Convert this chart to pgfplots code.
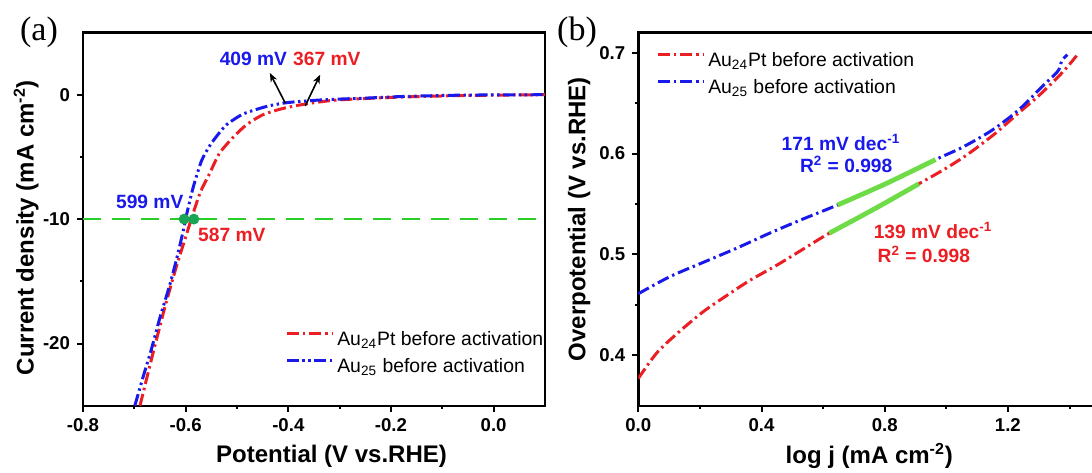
\documentclass[border=0pt]{standalone}
\usepackage{fontspec}
\setmainfont{Liberation Sans}
\newfontfamily\serifa{Liberation Serif}
\usepackage{pgfplots}
\pgfplotsset{compat=1.18}
\usetikzlibrary{arrows.meta}
\definecolor{myred}{RGB}{235,30,35}
\definecolor{myblue}{RGB}{25,25,235}
\definecolor{dashgreen}{RGB}{40,205,40}
\definecolor{dotgreen}{RGB}{25,165,85}
\definecolor{fitgreen}{RGB}{110,220,70}
\pgfplotsset{
 common/.style={
  scale only axis, width=231pt, height=186.6pt,
  axis line style={line width=1.2pt},
  tick align=outside, tick pos=left,
  major tick length=3pt, minor tick length=1.6pt,
  every tick/.style={black, line width=1pt},
  tick label style={font=\bfseries\fontsize{9.3}{10}\selectfont},
  label style={font=\bfseries\fontsize{12}{14}\selectfont},
  legend style={draw=none, fill=none, font=\fontsize{9.7}{11}\selectfont, inner sep=0pt, row sep=3.8pt,
     nodes={inner sep=0pt, text height=7.3pt, text depth=2.2pt},
     /tikz/every odd column/.append style={column sep=2pt}},
  legend cell align=left,
  legend image code/.code={\draw[##1] (0pt,3.4pt) -- (22.5pt,3.4pt);},
 },
 redc/.style={myred, line width=1.5pt, dash pattern=on 6pt off 2pt on 1.2pt off 2pt},
 bluedd/.style={myblue, line width=1.5pt, dash pattern=on 6pt off 1.8pt on 1.2pt off 1.8pt on 1.2pt off 1.8pt},
 bluec/.style={myblue, line width=1.5pt, dash pattern=on 6pt off 2pt on 1.2pt off 2pt},
}
\begin{document}
\begin{tikzpicture}
\begin{axis}[common, at={(41.5pt,33.15pt)}, anchor=south west,
 xmin=-0.8, xmax=0.1, ymin=-25, ymax=5,
 xtick={-0.8,-0.6,-0.4,-0.2,0}, xticklabels={-0.8,-0.6,-0.4,-0.2,0.0},
 minor xtick={-0.7,-0.5,-0.3,-0.1},
 ytick={-20,-10,0}, yticklabels={-20,-10,0},
 minor ytick={-15,-5},
 xlabel={Potential (V vs.RHE)},
 ylabel={Current density (mA cm\textsuperscript{-2})},
 xlabel style={at={(axis description cs:0.538,-0.135)}, anchor=center},
 ylabel style={at={(axis description cs:-0.123,0.477)}, anchor=center},
 legend style={at={(axis description cs:0.437,0.2016)}, anchor=north west},
]
\addplot[dashgreen, line width=1.3pt, dash pattern=on 9pt off 5.5pt, forget plot] coordinates {(-0.8,-10) (0.1,-10)};
\addplot[redc, smooth, tension=0.4] coordinates {
(-0.689,-25) (-0.665,-21) (-0.640,-17) (-0.618,-13.8) (-0.602,-11.7) (-0.589,-10)
(-0.572,-7.9) (-0.553,-6.3) (-0.534,-4.7) (-0.507,-3.4) (-0.481,-2.4) (-0.449,-1.6)
(-0.410,-1.1) (-0.364,-0.73) (-0.312,-0.45) (-0.247,-0.3) (-0.182,-0.19) (-0.117,-0.12)
(-0.052,-0.06) (0.1,0)};
\addlegendentry{Au\textsubscript{24}Pt before activation}
\addplot[bluedd, smooth, tension=0.4] coordinates {
(-0.699,-25) (-0.683,-22.7) (-0.667,-20.5) (-0.650,-17.9) (-0.631,-15.3) (-0.617,-13.1)
(-0.604,-10.8) (-0.598,-9.6) (-0.585,-7.4) (-0.569,-5.3) (-0.553,-4.1) (-0.537,-3.2)
(-0.520,-2.4) (-0.488,-1.55) (-0.442,-0.94) (-0.403,-0.64) (-0.351,-0.46) (-0.312,-0.37)
(-0.247,-0.27) (-0.182,-0.15) (-0.117,-0.08) (-0.052,-0.03) (0.1,0)};
\addlegendentry{Au\textsubscript{25} before activation}
\addplot[only marks, mark=*, mark size=2.5pt, dotgreen, forget plot] coordinates {(-0.603,-10) (-0.584,-10)};
\draw[-{Stealth[length=4.5pt,width=3.5pt]}, line width=0.8pt] (axis cs:-0.406,-0.67) -- (axis cs:-0.436,1.75);
\draw[-{Stealth[length=4.5pt,width=3.5pt]}, line width=0.8pt] (axis cs:-0.367,-0.89) -- (axis cs:-0.338,1.61);
\node[myblue, font=\bfseries\fontsize{9.6}{11}\selectfont] at (axis cs:-0.468,2.9) {409 mV};
\node[myred, font=\bfseries\fontsize{9.6}{11}\selectfont] at (axis cs:-0.325,2.9) {367 mV};
\node[myblue, font=\bfseries\fontsize{9.6}{11}\selectfont] at (axis cs:-0.670,-8.6) {599 mV};
\node[myred, font=\bfseries\fontsize{9.6}{11}\selectfont] at (axis cs:-0.510,-11.27) {587 mV};
\end{axis}
\begin{axis}[common, at={(319.15pt,33.15pt)}, anchor=south west,
 xmin=0, xmax=1.5, ymin=0.35, ymax=0.72,
 xtick={0,0.4,0.8,1.2}, xticklabels={0.0,0.4,0.8,1.2},
 minor xtick={0.2,0.6,1.0,1.4},
 ytick={0.4,0.5,0.6,0.7}, yticklabels={0.4,0.5,0.6,0.7},
 minor ytick={0.45,0.55,0.65},
 xlabel={log j (mA cm\textsuperscript{-2})},
 ylabel={Overpotential (V vs.RHE)},
 xlabel style={at={(axis description cs:0.5,-0.135)}, anchor=center},
 ylabel style={at={(axis description cs:-0.128,0.5)}, anchor=center},
 legend style={at={(axis description cs:0.038,0.949)}, anchor=north west},
]
\addplot[redc, smooth, tension=0.5] coordinates {
(0,0.377) (0.059,0.402) (0.124,0.421) (0.210,0.443) (0.286,0.459) (0.361,0.474)
(0.448,0.489) (0.534,0.505) (0.620,0.521) (0.766,0.545) (0.911,0.570) (0.997,0.585)
(1.073,0.600) (1.159,0.620) (1.234,0.640) (1.299,0.657) (1.363,0.676) (1.396,0.687) (1.423,0.697)};
\addlegendentry{Au\textsubscript{24}Pt before activation}
\addplot[bluec, smooth, tension=0.5] coordinates {
(0,0.461) (0.103,0.478) (0.210,0.492) (0.318,0.506) (0.426,0.521) (0.534,0.535)
(0.647,0.549) (0.803,0.570) (0.965,0.594) (1.051,0.606) (1.148,0.623) (1.234,0.643)
(1.310,0.666) (1.363,0.682) (1.375,0.692) (1.393,0.698)};
\addlegendentry{Au\textsubscript{25} before activation}
\addplot[fitgreen, line width=2.4pt, forget plot, smooth] coordinates {(0.620,0.521) (0.766,0.545) (0.911,0.570)};
\addplot[fitgreen, line width=2.4pt, forget plot, smooth] coordinates {(0.647,0.549) (0.803,0.570) (0.965,0.594)};
\node[myblue, font=\bfseries\fontsize{9.6}{11}\selectfont] at (axis cs:0.658,0.611) {171 mV dec\textsuperscript{-1}};
\node[myblue, font=\bfseries\fontsize{9.6}{11}\selectfont] at (axis cs:0.675,0.589) {R\textsuperscript{2} = 0.998};
\node[myred, font=\bfseries\fontsize{9.6}{11}\selectfont] at (axis cs:0.957,0.524) {139 mV dec\textsuperscript{-1}};
\node[myred, font=\bfseries\fontsize{9.6}{11}\selectfont] at (axis cs:0.927,0.500) {R\textsuperscript{2} = 0.998};
\end{axis}
\node[font=\serifa\fontsize{17}{20}\selectfont, inner sep=0pt] at (19.5pt,219.75pt) {(a)};
\node[font=\serifa\fontsize{17}{20}\selectfont, inner sep=0pt] at (288.5pt,220pt) {(b)};
\pgfresetboundingbox
\path[use as bounding box] (0pt,0pt) rectangle (546pt,236pt);
\end{tikzpicture}
\end{document}
